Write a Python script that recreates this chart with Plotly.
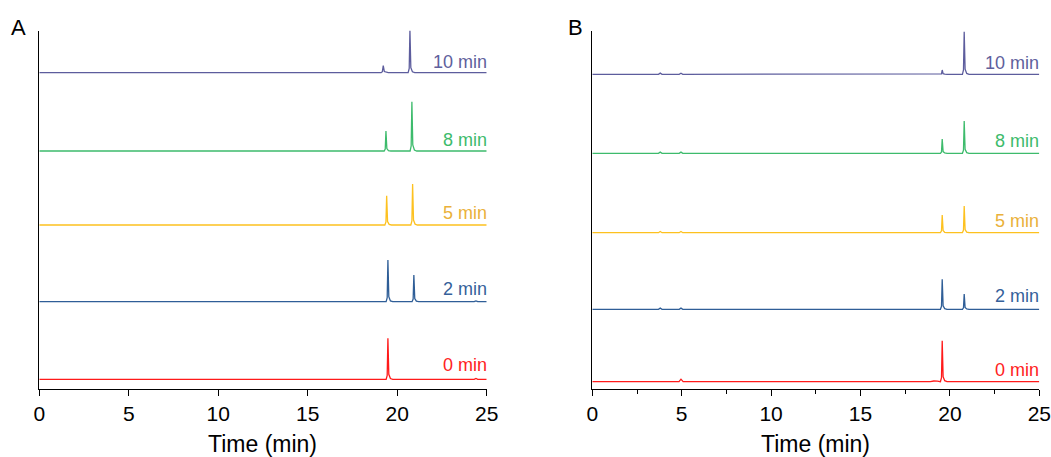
import plotly.graph_objects as go

# ---------------------------------------------------------------------------
# HPLC chromatograms at different reaction times (signal in arbitrary units)
# Each trace: retention time (min) vertices and detector signal above baseline
# ---------------------------------------------------------------------------
sample_labels = ["0 min", "2 min", "5 min", "8 min", "10 min"]

# Panel A
a_time_0 = [0, 2.95, 3.1, 3.3, 19.38, 19.44, 19.48, 19.53, 19.62, 19.75, 24.3, 24.4, 24.5, 25]
a_sig_0 = [0, 0, 0.6, 0, 0, 4, 41, 5, 0.8, 0, 0, 0.8, 0, 0]

a_time_2 = [0, 2.95, 3.1, 3.3, 19.38, 19.44, 19.48, 19.53, 19.62, 19.75,
            20.83, 20.89, 20.93, 20.98, 21.07, 21.2, 24.3, 24.4, 24.5, 25]
a_sig_2 = [0, 0, 0.6, 0, 0, 4, 41.7, 5, 0.8, 0,
           0, 2.7, 26.7, 3.2, 0.5, 0, 0, 0.8, 0, 0]

a_time_5 = [0, 2.95, 3.1, 3.3, 19.31, 19.37, 19.41, 19.46, 19.55, 19.68,
            20.76, 20.82, 20.86, 20.91, 21.0, 21.13, 25]
a_sig_5 = [0, 0, 0.6, 0, 0, 3, 29.3, 3.5, 0.6, 0,
           0, 4, 41, 5, 0.8, 0, 0]

a_time_8 = [0, 2.95, 3.1, 3.3, 19.27, 19.33, 19.37, 19.42, 19.51, 19.64,
            20.72, 20.78, 20.82, 20.87, 20.96, 21.09, 25]
a_sig_8 = [0, 0, 0.6, 0, 0, 2, 20, 2.4, 0.4, 0,
           0, 5, 49.3, 6, 1, 0, 0]

a_time_10 = [0, 2.95, 3.1, 3.3, 19.1, 19.17, 19.22, 19.28, 19.38, 19.5,
             20.61, 20.67, 20.71, 20.76, 20.85, 20.98, 25]
a_sig_10 = [0, 0, 0.6, 0, 0, 1, 7, 1.2, 0.3, 0,
            0, 4.3, 42.7, 5, 0.9, 0, 0]

# Panel B
b_time_0 = [0, 4.85, 4.96, 5.08, 18.9, 19.1, 19.3, 19.47, 19.53, 19.57, 19.62, 19.71, 19.84, 25]
b_sig_0 = [0, 0, 2.5, 0, 0, 0.7, 0.5, 0, 4, 41, 5, 1, 0, 0]

b_time_n = [0, 3.7, 3.8, 3.9, 4.86, 4.96, 5.06, 18.9, 19.1, 19.3, 19.47, 19.53, 19.57,
            19.62, 19.71, 19.84, 20.7, 20.76, 20.8, 20.85, 20.94, 21.07, 25]
b_sig_2 = [0, 0, 1.2, 0, 0, 1.2, 0, 0, 0.7, 0.5, 0, 3, 30,
           3.6, 0.7, 0, 0, 1.5, 15.3, 1.8, 0.4, 0, 0]
b_sig_5 = [0, 0, 1.2, 0, 0, 1.2, 0, 0, 0.7, 0.5, 0, 1.8, 17.7,
           2.1, 0.4, 0, 0, 2.7, 26.7, 3.2, 0.6, 0, 0]
b_sig_8 = [0, 0, 1.2, 0, 0, 1.2, 0, 0, 0.7, 0.5, 0, 1.4, 14.3,
           1.7, 0.3, 0, 0, 3.2, 32.3, 3.9, 0.7, 0, 0]
b_sig_10 = [0, 0, 1.2, 0, 0, 1.0, 0, 0, 0.7, 0.5, 0, 0.5, 4.3,
            0.6, 0.2, 0, 0, 4.3, 42.6, 5.1, 0.9, 0, 0]

x_ticks = [0, 5, 10, 15, 20, 25]
x_title = "Time (min)"

# ---------------------------------------------------------------------------
# Styling / stacking
# ---------------------------------------------------------------------------
line_colors = ["#FF1A1A", "#2F5E97", "#FDC11F", "#3DBB6C", "#5D5D9D"]
text_colors = ["#FF2222", "#35619A", "#EAB13A", "#3DBB6C", "#60609C"]
offsets_a = [9.7, 87.3, 164.0, 238.0, 316.3]
offsets_b = [7.3, 79.7, 156.3, 235.7, 314.7]
label_y_a = [16.7, 93.0, 169.0, 242.3, 319.7]
label_y_b = [12.3, 85.7, 160.7, 240.7, 319.0]
Y_TOP = 358.3

W, H = 1051, 457
FONT = "Arial, Liberation Sans, sans-serif"

panel_a = [(a_time_0, a_sig_0), (a_time_2, a_sig_2), (a_time_5, a_sig_5),
           (a_time_8, a_sig_8), (a_time_10, a_sig_10)]
panel_b = [(b_time_0, b_sig_0), (b_time_n, b_sig_2), (b_time_n, b_sig_5),
           (b_time_n, b_sig_8), (b_time_n, b_sig_10)]

dom_a = [39.3 / W, 486.7 / W]
dom_b = [592.3 / W, 1039.3 / W]
y_dom = [(H - 389) / H, (H - 30.7) / H]

fig = go.Figure()

for panel, offsets, xa, ya in [(panel_a, offsets_a, "x", "y"), (panel_b, offsets_b, "x2", "y2")]:
    for i, (t, s) in enumerate(panel):
        fig.add_trace(go.Scatter(
            x=t, y=[v + offsets[i] for v in s], mode="lines",
            line=dict(color=line_colors[i], width=1.3),
            xaxis=xa, yaxis=ya, showlegend=False, hoverinfo="skip",
        ))

annotations = []
for label_y, xr, yr in [(label_y_a, "x", "y"), (label_y_b, "x2", "y2")]:
    for i, lab in enumerate(sample_labels):
        annotations.append(dict(
            x=25, y=label_y[i], xref=xr, yref=yr, text=lab, showarrow=False,
            xanchor="right", yanchor="bottom", yshift=-5, xshift=2,
            font=dict(family=FONT, size=18, color=text_colors[i]),
        ))

# panel letters
for letter, px in [("A", 9), ("B", 566)]:
    annotations.append(dict(
        x=px / W, y=(H - 13) / H, xref="paper", yref="paper", text=letter,
        showarrow=False, xanchor="left", yanchor="top",
        font=dict(family=FONT, size=22, color="black"),
    ))

# x-axis titles
for dom in (dom_a, dom_b):
    annotations.append(dict(
        x=(dom[0] + dom[1]) / 2, y=(H - 443.5) / H, xref="paper", yref="paper",
        text=x_title, showarrow=False, xanchor="center", yanchor="middle",
        font=dict(family=FONT, size=23, color="black"),
    ))

xaxis_common = dict(
    range=[0, 25], tickvals=x_ticks, showline=True, linecolor="black", linewidth=1.3,
    ticks="outside", ticklen=6, tickwidth=1.3, tickcolor="black",
    showgrid=False, zeroline=False, automargin=False,
    tickfont=dict(family=FONT, size=21, color="black"),
)
yaxis_common = dict(
    range=[0, Y_TOP], showline=True, linecolor="black", linewidth=1.3,
    showticklabels=False, ticks="", showgrid=False, zeroline=False, automargin=False,
)

fig.update_layout(
    width=W, height=H,
    margin=dict(l=0, r=0, t=0, b=0, autoexpand=False),
    paper_bgcolor="white", plot_bgcolor="white",
    font=dict(family=FONT, color="black"),
    xaxis=dict(domain=dom_a, anchor="y", **xaxis_common),
    yaxis=dict(domain=y_dom, anchor="x", **yaxis_common),
    xaxis2=dict(domain=dom_b, anchor="y2",
                minor=dict(ticks="outside", ticklen=4, tickwidth=1.3, tickcolor="black", dtick=2.5),
                **xaxis_common),
    yaxis2=dict(domain=y_dom, anchor="x2", **yaxis_common),
    annotations=annotations,
)

fig.write_html("out.html")
